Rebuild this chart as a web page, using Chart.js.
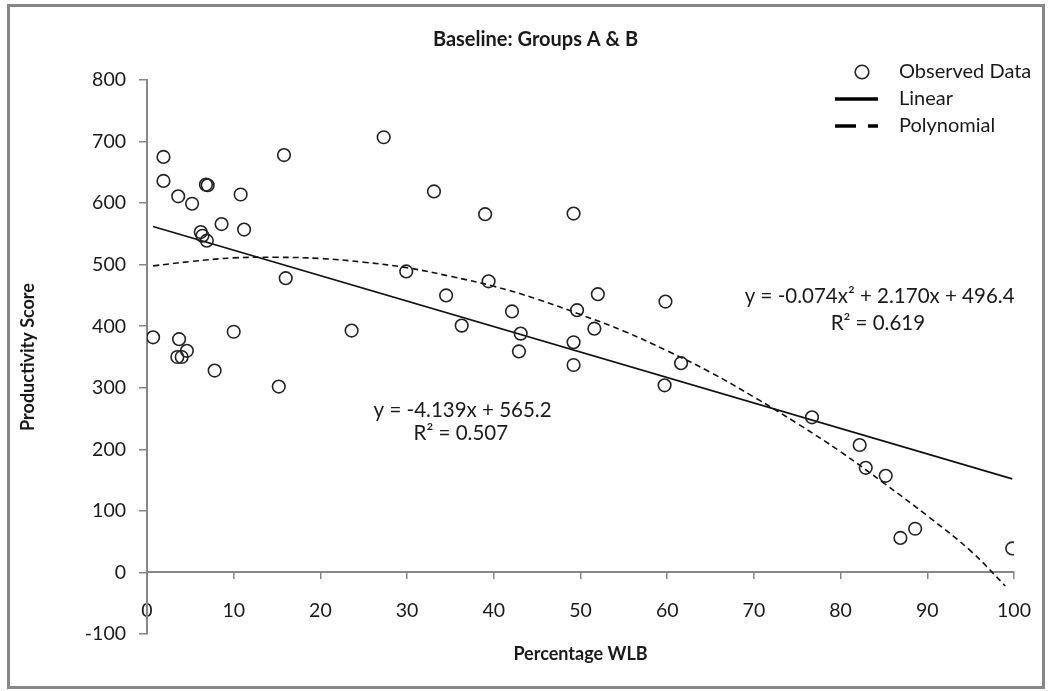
<!DOCTYPE html>
<html>
<head>
<meta charset="utf-8">
<script src="https://cdn.jsdelivr.net/npm/chart.js@4.4.1/dist/chart.umd.min.js"></script>
<style>
  html, body { margin: 0; padding: 0; background: #fff; }
  #wrap { position: relative; width: 1053px; height: 691px; }
  #frame { position: absolute; left: 7px; top: 4px; width: 1038px; height: 685px; box-sizing: border-box; border: 3px solid #878787; pointer-events: none; }
</style>
</head>
<body>
<div id="wrap">
  <canvas id="chart" width="1053" height="691"></canvas>
  <div id="frame"></div>
</div>
<script>
// observed points
const wlbPct = [1.9, 1.9, 15.8, 3.6, 5.2, 6.8, 7.0, 10.8, 8.6, 11.2, 6.2, 6.4, 6.9,
  16.0, 0.7, 3.7, 4.6, 3.5, 4.0, 10.0, 7.8, 15.2,
  27.3, 33.1, 39.0, 29.9, 39.4, 23.6, 34.5, 36.3,
  49.2, 52.0, 59.8, 42.1, 49.6, 51.6, 43.1, 49.2, 42.9, 49.2, 61.6, 59.7,
  76.7, 82.2, 82.9, 85.2, 88.6, 86.9, 99.8];
const prodScore = [675, 636, 678, 611, 599, 630, 629, 614, 566, 557, 553, 547, 539,
  478, 382, 379, 360, 350, 350, 391, 328, 302,
  707, 619, 582, 489, 473, 393, 450, 401,
  583, 452, 440, 424, 426, 396, 388, 374, 359, 337, 340, 304,
  252, 207, 170, 157, 71, 56, 39];

// trend lines as drawn in the picture
const linearX = [0.7, 99.8];
const linearY = [562, 152];
const polyX = [0.7, 5, 10, 15, 20, 25, 30, 35, 40, 45, 50, 55, 60, 65, 70, 75, 80, 85, 90, 95, 99];
const polyY = [498, 505, 511, 512, 510, 504, 495, 481, 465, 444, 419, 392, 360, 325, 285, 242, 196, 145, 92, 35, -22];

const seriesNames = ['Observed Data', 'Linear', 'Polynomial'];
const xTicks = [0, 10, 20, 30, 40, 50, 60, 70, 80, 90, 100];
const yTicks = [-100, 0, 100, 200, 300, 400, 500, 600, 700, 800];

const eqLabels = [
  { text: 'y = -0.074x\u00b2 + 2.170x + 496.4', x: 84.5, y: 449 },
  { text: 'R\u00b2 = 0.619', x: 84.3, y: 405 },
  { text: 'y = -4.139x + 565.2', x: 36.4, y: 264 },
  { text: 'R\u00b2 = 0.507', x: 36.2, y: 226 }
];

const FONT = 'Lato';
const INK = '#1a1a1a';
const AXIS = '#878787';

const zip = (xs, ys) => xs.map((x, i) => ({ x: x, y: ys[i] }));

// small circle used as the legend marker
const dot = document.createElement('canvas');
dot.width = 18; dot.height = 18;
(function () {
  const c = dot.getContext('2d');
  c.strokeStyle = '#222';
  c.lineWidth = 1.6;
  c.beginPath();
  c.arc(9, 9, 6.8, 0, Math.PI * 2);
  c.stroke();
})();

const equations = {
  id: 'equations',
  afterDatasetsDraw(chart) {
    const { ctx, scales } = chart;
    ctx.save();
    ctx.font = '20.5px ' + FONT;
    ctx.fillStyle = INK;
    ctx.textAlign = 'center';
    ctx.textBaseline = 'middle';
    eqLabels.forEach(l => {
      ctx.fillText(l.text, scales.x.getPixelForValue(l.x), scales.y.getPixelForValue(l.y));
    });
    ctx.restore();
  }
};

// park the legend in the top right corner of the plot
const legendSpot = {
  id: 'legendSpot',
  afterLayout(chart) {
    const lg = chart.legend;
    lg.left = 828; lg.top = 55; lg.right = 1050; lg.bottom = 170;
    lg.width = lg.right - lg.left; lg.height = lg.bottom - lg.top;
  }
};

new Chart(document.getElementById('chart'), {
  type: 'scatter',
  data: {
    datasets: [{
      label: seriesNames[0],
      data: zip(wlbPct, prodScore),
      pointRadius: 6.3,
      pointHoverRadius: 6.3,
      borderWidth: 1.6,
      borderColor: '#222',
      backgroundColor: 'rgba(0,0,0,0)'
    }, {
      label: seriesNames[1],
      data: zip(linearX, linearY),
      showLine: true,
      borderColor: '#111',
      borderWidth: 1.6,
      pointRadius: 0,
      pointStyle: 'line'
    }, {
      label: seriesNames[2],
      data: zip(polyX, polyY),
      showLine: true,
      borderColor: '#111',
      borderWidth: 1.6,
      borderDash: [6, 4],
      tension: 0.4,
      pointRadius: 0,
      pointStyle: 'line'
    }]
  },
  options: {
    responsive: false,
    animation: false,
    devicePixelRatio: 1,
    layout: { padding: { left: 57, right: 39, top: 0, bottom: 57 } },
    plugins: {
      title: {
        display: true,
        text: 'Baseline: Groups A & B',
        color: INK,
        font: { family: FONT, size: 20, weight: 'bold' },
        padding: { top: 28, bottom: 28 }
      },
      legend: {
        position: 'chartArea',
        align: 'start',
        labels: {
          usePointStyle: true,
          pointStyleWidth: 54,
          boxHeight: 10,
          padding: 7,
          color: INK,
          font: { family: FONT, size: 20 },
          generateLabels(chart) {
            const items = Chart.defaults.plugins.legend.labels.generateLabels(chart);
            items.forEach(it => {
              if (it.datasetIndex === 0) {
                it.pointStyle = dot;
              } else {
                it.pointStyle = 'line';
                it.lineWidth = 3.5;
                it.strokeStyle = '#000';
                it.lineDash = it.datasetIndex === 1 ? [43, 200] : [21, 12, 10, 200];
                it.lineDashOffset = 0;
              }
            });
            return items;
          }
        }
      },
      tooltip: { enabled: false }
    },
    scales: {
      x: {
        type: 'linear',
        position: { y: 0 },
        min: 0,
        max: 100,
        afterBuildTicks(scale) { scale.ticks = xTicks.map(v => ({ value: v })); },
        grid: { drawOnChartArea: false, tickLength: 6, color: AXIS, lineWidth: 1.5 },
        border: { color: AXIS, width: 2 },
        ticks: { color: INK, padding: 21, font: { family: FONT, size: 19.5 }, maxRotation: 0 },
        title: {
          display: true,
          text: 'Percentage WLB',
          color: INK,
          font: { family: FONT, size: 18, weight: 'bold' },
          padding: { top: 0, bottom: 0 }
        }
      },
      y: {
        type: 'linear',
        position: 'left',
        min: -100,
        max: 800,
        afterBuildTicks(scale) { scale.ticks = yTicks.map(v => ({ value: v })); },
        afterFit(scale) { scale.width = 90; },
        grid: { drawOnChartArea: false, tickLength: 8, color: AXIS, lineWidth: 1.5 },
        border: { color: AXIS, width: 2 },
        ticks: { color: INK, padding: 13, font: { family: FONT, size: 19.5 } },
        title: {
          display: true,
          text: 'Productivity Score',
          color: INK,
          font: { family: FONT, size: 18, weight: 'bold' },
          padding: { top: -40, bottom: 0 }
        }
      }
    }
  },
  plugins: [equations, legendSpot]
});
</script>
</body>
</html>
